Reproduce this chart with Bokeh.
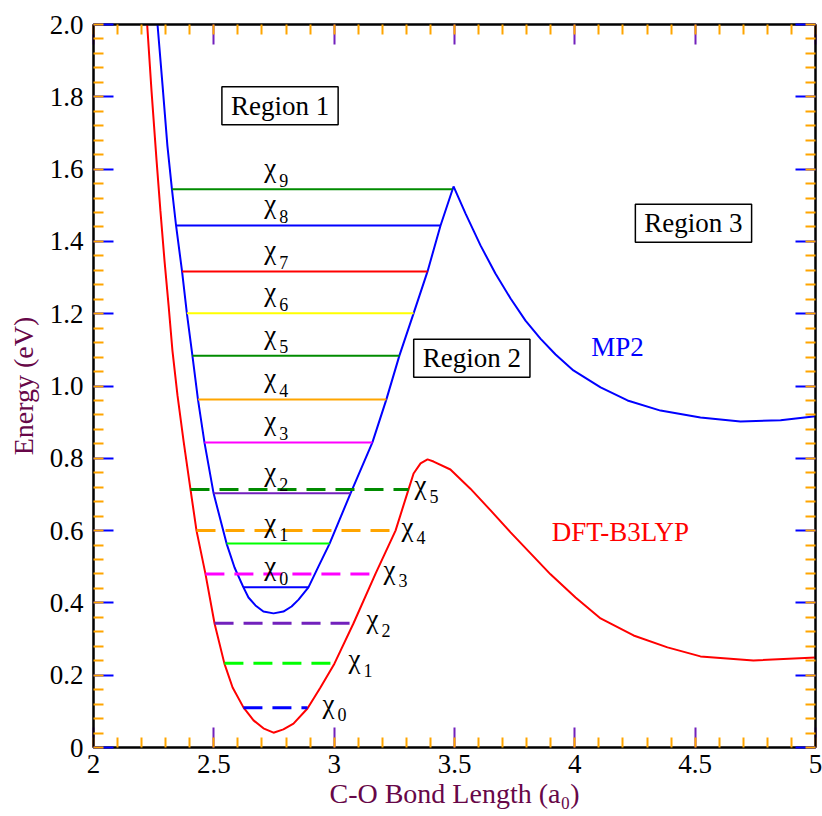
from bokeh.plotting import figure
from bokeh.models import (ColumnDataSource, LinearAxis, SingleIntervalTicker,
                          CustomJSTickFormatter, CustomLabelingPolicy, Label,
                          Range1d)
from bokeh.core.properties import value
from bokeh.embed import file_html
from bokeh.resources import INLINE

# MP2 potential energy curve (bond length in a0, energy in eV)
mp2_x = [2.266, 2.287, 2.307, 2.326, 2.343, 2.368, 2.388, 2.411, 2.434, 2.461,
         2.499, 2.553, 2.586, 2.623, 2.644, 2.673, 2.706, 2.748, 2.789, 2.823,
         2.852, 2.893, 2.935, 2.981, 3.068, 3.159, 3.217, 3.271, 3.330, 3.388,
         3.442, 3.496, 3.546, 3.608, 3.670, 3.733, 3.795, 3.857, 3.920, 3.994,
         4.107, 4.219, 4.356, 4.522, 4.688, 4.855, 5.000]
mp2_e = [2.000, 1.831, 1.665, 1.544, 1.444, 1.317, 1.201, 1.084, 0.963, 0.844,
         0.703, 0.564, 0.498, 0.443, 0.415, 0.393, 0.376, 0.371, 0.376, 0.390,
         0.409, 0.443, 0.501, 0.564, 0.703, 0.844, 0.963, 1.084, 1.201, 1.317,
         1.444, 1.552, 1.477, 1.389, 1.311, 1.242, 1.181, 1.131, 1.087, 1.043,
         0.996, 0.960, 0.932, 0.913, 0.902, 0.905, 0.916]

# DFT-B3LYP potential energy curve
dft_x = [2.223, 2.241, 2.262, 2.278, 2.295, 2.312, 2.328, 2.349, 2.374, 2.403,
         2.428, 2.465, 2.503, 2.544, 2.578, 2.623, 2.665, 2.706, 2.748, 2.789,
         2.831, 2.889, 2.943, 3.001, 3.080, 3.172, 3.255, 3.309, 3.330, 3.359,
         3.388, 3.413, 3.483, 3.566, 3.650, 3.733, 3.816, 3.899, 4.003, 4.107,
         4.244, 4.385, 4.522, 4.742, 5.000]
dft_e = [2.000, 1.817, 1.624, 1.485, 1.347, 1.223, 1.098, 0.974, 0.849, 0.714,
         0.600, 0.481, 0.343, 0.232, 0.166, 0.111, 0.075, 0.053, 0.041, 0.050,
         0.066, 0.108, 0.166, 0.232, 0.343, 0.481, 0.600, 0.714, 0.758, 0.786,
         0.797, 0.791, 0.769, 0.716, 0.656, 0.595, 0.537, 0.479, 0.415, 0.357,
         0.310, 0.277, 0.252, 0.241, 0.249]

# Vibrational levels on the MP2 curve (solid)
mp2_lvl_e = [0.443, 0.564, 0.703, 0.844, 0.963, 1.084, 1.201, 1.317, 1.444, 1.544]
mp2_lvl_x0 = [2.623, 2.553, 2.499, 2.461, 2.434, 2.411, 2.388, 2.368, 2.343, 2.326]
mp2_lvl_x1 = [2.893, 2.981, 3.068, 3.159, 3.217, 3.271, 3.330, 3.388, 3.442, 3.491]
mp2_lvl_n = ["0", "1", "2", "3", "4", "5", "6", "7", "8", "9"]
mp2_lvl_col = ["#0000FF", "#00FF00", "#7221BC", "#FF00FF", "#FFA500",
               "#008B00", "#FFFF00", "#FF0000", "#0000FF", "#008B00"]

# Vibrational levels on the DFT curve (dashed)
dft_lvl_e = [0.110, 0.233, 0.344, 0.480, 0.600, 0.714]
dft_lvl_x0 = [2.623, 2.544, 2.503, 2.465, 2.428, 2.403]
dft_lvl_x1 = [2.889, 3.001, 3.080, 3.172, 3.255, 3.309]
dft_lvl_n = ["0", "1", "2", "3", "4", "5"]
dft_lvl_col = ["#0000FF", "#00FF00", "#7221BC", "#FF00FF", "#FFA500", "#008B00"]
# horizontal gap (px) between each dashed level's end and its label
dft_lbl_gap = [15, 14, 13, 8, 6, 6]

SERIF = "Liberation Serif"
MAROON = "#670748"

p = figure(width=822, height=816, x_range=Range1d(2, 5), y_range=Range1d(0, 2),
           output_backend="svg", toolbar_location=None,
           min_border_left=93, min_border_right=7, min_border_top=24,
           min_border_bottom=69)
p.grid.visible = False
p.outline_line_color = "black"
p.outline_line_width = 2
p.background_fill_color = "white"
p.border_fill_color = "white"

# mirrored tick axes on top and right (ticks only, no labels)
p.add_layout(LinearAxis(), "above")
p.add_layout(LinearAxis(), "right")

x_fmt = CustomJSTickFormatter(code="""
    return Math.abs(tick - Math.round(tick)) < 1e-6 ? tick.toFixed(0) : tick.toFixed(1);
""")
y_fmt = CustomJSTickFormatter(code="""
    return Math.abs(tick) < 1e-6 ? "0" : tick.toFixed(1);
""")


def style_axis(ax, major_color, interval, show_labels, fmt):
    ax.ticker = SingleIntervalTicker(interval=interval, num_minor_ticks=5)
    ax.formatter = fmt
    ax.major_tick_in = 20
    ax.major_tick_out = 0
    ax.minor_tick_in = 10
    ax.minor_tick_out = 0
    ax.major_tick_line_color = major_color
    ax.major_tick_line_width = 2
    ax.minor_tick_line_color = "#FFA500"
    ax.minor_tick_line_width = 2
    ax.axis_line_color = "black"
    ax.axis_line_width = 2
    if show_labels:
        ax.major_label_text_font = SERIF
        ax.major_label_text_font_size = "27px"
        ax.major_label_text_color = "black"
    else:
        ax.major_label_policy = CustomLabelingPolicy(code="return []")
        ax.major_label_text_font_size = "1px"
        ax.major_label_standoff = 0


style_axis(p.below[0], "#7221BC", 0.5, True, x_fmt)
style_axis(p.above[0], "#7221BC", 0.5, False, x_fmt)
style_axis(p.left[0], "#0000FF", 0.2, True, y_fmt)
style_axis(p.right[0], "#0000FF", 0.2, False, y_fmt)

xb = p.below[0]
xb.major_label_standoff = 7
xb.axis_label = "C-O Bond Length (a\u2080)"
xb.axis_label_text_font = SERIF
xb.axis_label_text_font_size = "28px"
xb.axis_label_text_font_style = "normal"
xb.axis_label_text_color = MAROON
xb.axis_label_standoff = 2

yl = p.left[0]
yl.major_label_standoff = 10
yl.axis_label = "Energy (eV)"
yl.axis_label_text_font = SERIF
yl.axis_label_text_font_size = "28px"
yl.axis_label_text_font_style = "normal"
yl.axis_label_text_color = MAROON
yl.axis_label_standoff = 8

# potential curves
p.line(mp2_x, mp2_e, line_color="#0000FF", line_width=2)
p.line(dft_x, dft_e, line_color="#FF0000", line_width=2)

# vibrational levels
mp2_src = ColumnDataSource(dict(x0=mp2_lvl_x0, x1=mp2_lvl_x1, e=mp2_lvl_e,
                                c=mp2_lvl_col, n=mp2_lvl_n,
                                chi=["\u03c7"] * len(mp2_lvl_e),
                                xl=[2.71] * len(mp2_lvl_e)))
dft_src = ColumnDataSource(dict(x0=dft_lvl_x0, x1=dft_lvl_x1, e=dft_lvl_e,
                                c=dft_lvl_col, n=dft_lvl_n,
                                chi=["\u03c7"] * len(dft_lvl_e),
                                gap=dft_lbl_gap,
                                gap_sub=[g + 15 for g in dft_lbl_gap]))

p.segment(x0="x0", y0="e", x1="x1", y1="e", line_color="c", line_width=2,
          source=mp2_src)
p.segment(x0="x0", y0="e", x1="x1", y1="e", line_color="c", line_width=3,
          line_dash="19 10", source=dft_src)

CHI_SIZE = "27px"
SUB_SIZE = "18px"

# level labels: chi above each MP2 level
p.text(x="xl", y="e", text="chi", source=mp2_src, text_font=value(SERIF),
       text_font_size=value(CHI_SIZE), text_color="black",
       text_align="left", text_baseline="alphabetic", y_offset=-21)
p.text(x="xl", y="e", text="n", source=mp2_src, text_font=value(SERIF),
       text_font_size=value(SUB_SIZE), text_color="black",
       text_align="left", text_baseline="alphabetic", x_offset=15, y_offset=-9)

# level labels: chi right of each DFT level
p.text(x="x1", y="e", text="chi", source=dft_src, text_font=value(SERIF),
       text_font_size=value(CHI_SIZE), text_color="black",
       text_align="left", text_baseline="alphabetic", x_offset="gap",
       y_offset=-4)
p.text(x="x1", y="e", text="n", source=dft_src, text_font=value(SERIF),
       text_font_size=value(SUB_SIZE), text_color="black",
       text_align="left", text_baseline="alphabetic", x_offset="gap_sub",
       y_offset=7)

# region boxes
for txt, rx, ry in [("Region 1", 2.775, 1.775), ("Region 2", 3.572, 1.077),
                    ("Region 3", 4.493, 1.450)]:
    p.add_layout(Label(x=rx, y=ry, text=txt, text_font=SERIF,
                       text_font_size="27px", text_color="black",
                       text_align="center", text_baseline="middle",
                       border_line_color="black", border_line_width=1.5,
                       background_fill_color="white", padding=(9, 4)))

# curve names
p.add_layout(Label(x=4.177, y=1.107, text="MP2", text_font=SERIF,
                   text_font_size="27px", text_color="#0000FF",
                   text_align="center", text_baseline="middle"))
p.add_layout(Label(x=4.189, y=0.595, text="DFT-B3LYP", text_font=SERIF,
                   text_font_size="27px", text_color="#FF0000",
                   text_align="center", text_baseline="middle"))

open("out.html", "w").write(file_html(p, INLINE))
